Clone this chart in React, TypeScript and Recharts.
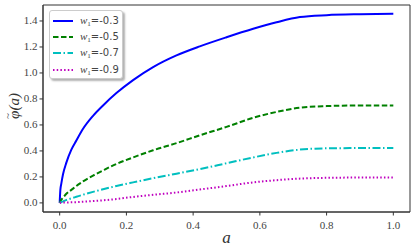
import { LineChart, Line, XAxis, YAxis, ReferenceArea } from 'recharts';

const aValues = [0, 0.002, 0.005, 0.01, 0.02, 0.035, 0.05, 0.07, 0.1, 0.13, 0.17, 0.22, 0.28, 0.35, 0.42, 0.5, 0.58, 0.65, 0.72, 0.8, 0.9, 1.0];
const w03 = [0, 0.1, 0.15, 0.22, 0.31, 0.41, 0.48, 0.57, 0.67, 0.75, 0.845, 0.945, 1.045, 1.135, 1.205, 1.275, 1.34, 1.39, 1.43, 1.445, 1.452, 1.455];
const w05 = [0, 0.012, 0.025, 0.04, 0.07, 0.1, 0.13, 0.165, 0.21, 0.25, 0.3, 0.35, 0.405, 0.46, 0.52, 0.585, 0.655, 0.7, 0.733, 0.745, 0.75, 0.75];
const w07 = [0, 0.003, 0.006, 0.012, 0.022, 0.035, 0.047, 0.063, 0.085, 0.105, 0.13, 0.158, 0.19, 0.225, 0.26, 0.305, 0.35, 0.385, 0.41, 0.42, 0.422, 0.422];
const w09 = [0, 0.001, 0.001, 0.002, 0.003, 0.005, 0.006, 0.009, 0.014, 0.02, 0.03, 0.046, 0.062, 0.08, 0.103, 0.13, 0.158, 0.175, 0.187, 0.193, 0.195, 0.195];
const xTicks = [0, 0.2, 0.4, 0.6, 0.8, 1.0];
const yTicks = [0, 0.2, 0.4, 0.6, 0.8, 1.0, 1.2, 1.4];

const series = [
  { key: 'w03', label: '-0.3', color: '#0000ff', dash: undefined },
  { key: 'w05', label: '-0.5', color: '#008000', dash: '5.5 2.5' },
  { key: 'w07', label: '-0.7', color: '#00bfbf', dash: '8 2.5 1.5 2.5' },
  { key: 'w09', label: '-0.9', color: '#bf00bf', dash: '1.5 2.2' },
];

const data = aValues.map((a, i) => ({ a, w03: w03[i], w05: w05[i], w07: w07[i], w09: w09[i] }));

const serif = "'Liberation Serif', serif";

function XTick(props: any) {
  const { x, y, payload } = props;
  return (
    <text x={x} y={y + 11} textAnchor="middle" fontFamily={serif} fontSize={11} fill="#444">
      {payload.value.toFixed(1)}
    </text>
  );
}

function YTick(props: any) {
  const { x, y, payload } = props;
  return (
    <text x={x} y={y + 3.5} textAnchor="end" fontFamily={serif} fontSize={11} fill="#444">
      {payload.value.toFixed(1)}
    </text>
  );
}

function LegendBox() {
  return (
    <div
      style={{
        position: 'absolute',
        left: 49,
        top: 10,
        width: 74,
        height: 69,
        border: '1px solid #ccc',
        borderRadius: 3,
        background: '#fff',
        boxShadow: '2px 2px 2px rgba(0,0,0,0.3)',
        paddingTop: 2,
        boxSizing: 'border-box',
      }}
    >
      {series.map(s => (
        <div key={s.key} style={{ display: 'flex', alignItems: 'center', height: 16.2 }}>
          <svg width={28} height={10} style={{ marginLeft: 2 }}>
            <line x1={1} y1={5} x2={21} y2={5} stroke={s.color} strokeWidth={2} strokeDasharray={s.dash} />
          </svg>
          <span style={{ fontSize: 10, color: '#444', fontFamily: "'DejaVu Sans', sans-serif", whiteSpace: 'nowrap' }}>
            <span style={{ fontFamily: serif, fontStyle: 'italic', fontSize: 11 }}>w</span>
            <span style={{ fontFamily: serif, fontSize: 7, verticalAlign: -2 }}>1</span>
            =
            {s.label}
          </span>
        </div>
      ))}
    </div>
  );
}

function YLabel() {
  return (
    <svg width={26} height={60} style={{ position: 'absolute', left: 0, top: 80 }}>
      <g transform="translate(19,26) rotate(-90)">
        <text x={0} y={0} textAnchor="middle" fontFamily={serif} fontStyle="italic" fontSize={15} fill="#333">
          φ(a)
        </text>
        <text x={-10} y={-8} textAnchor="middle" fontFamily={serif} fontSize={11} fill="#333">
          ~
        </text>
      </g>
    </svg>
  );
}

export default function App() {
  return (
    <div style={{ position: 'absolute', left: 0, top: 0, width: 415, height: 248, background: '#fff' }}>
      <LineChart width={415} height={248} data={data} margin={{ top: 5, right: 5, left: 0, bottom: 0 }}>
        <XAxis
          dataKey="a"
          type="number"
          domain={[-0.05, 1.05]}
          ticks={xTicks}
          tick={<XTick />}
          tickSize={3.5}
          height={36}
          stroke="#333"
          label={{ value: 'a', position: 'insideBottom', offset: 5, style: { fontFamily: serif, fontStyle: 'italic', fontSize: 17, fill: '#333' } }}
        />
        <YAxis
          type="number"
          domain={[-0.07, 1.523]}
          ticks={yTicks}
          tick={<YTick />}
          tickSize={3.5}
          width={43}
          stroke="#333"
          allowDataOverflow
        />
        <ReferenceArea x1={-0.05} x2={1.05} y1={-0.07} y2={1.523} fill="none" stroke="#333" strokeWidth={1} ifOverflow="visible" />
        {series.map(s => (
          <Line
            key={s.key}
            type="monotone"
            dataKey={s.key}
            stroke={s.color}
            strokeWidth={2}
            strokeDasharray={s.dash}
            dot={false}
            isAnimationActive={false}
          />
        ))}
      </LineChart>
      <YLabel />
      <LegendBox />
    </div>
  );
}
